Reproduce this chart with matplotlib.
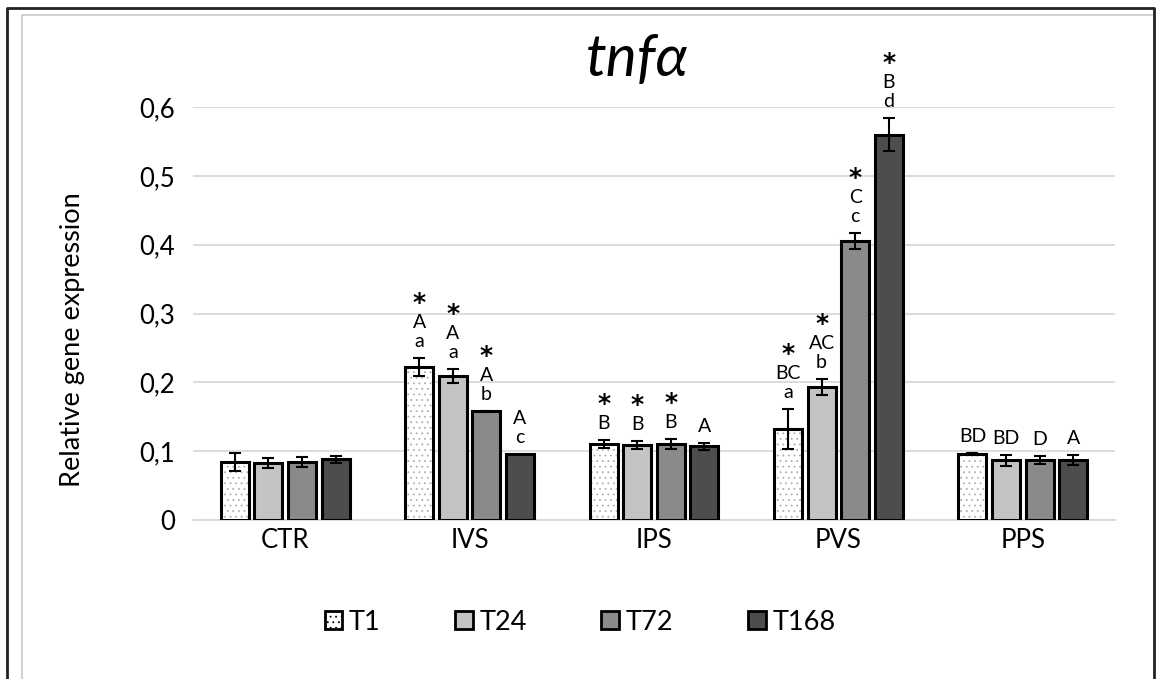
import numpy as np
import matplotlib.pyplot as plt
from matplotlib.patches import Patch
from matplotlib.lines import Line2D

plt.rcParams['font.family'] = ['Lato', 'DejaVu Sans']
plt.rcParams['hatch.linewidth'] = 0.6

groups = ['CTR', 'IVS', 'IPS', 'PVS', 'PPS']
times = ['T1', 'T24', 'T72', 'T168']

# mean expression per time point, one value per group
t1 = [0.084, 0.222, 0.110, 0.132, 0.096]
t24 = [0.083, 0.209, 0.109, 0.193, 0.087]
t72 = [0.084, 0.158, 0.110, 0.405, 0.087]
t168 = [0.088, 0.096, 0.107, 0.560, 0.087]

err_t1 = [0.013, 0.013, 0.006, 0.029, 0.002]
err_t24 = [0.007, 0.010, 0.006, 0.012, 0.008]
err_t72 = [0.007, 0.001, 0.007, 0.012, 0.006]
err_t168 = [0.005, 0.000, 0.005, 0.024, 0.007]

# significance marks (star) and letters above each bar
star_t1 = [False, True, True, True, False]
star_t24 = [False, True, True, True, False]
star_t72 = [False, True, True, True, False]
star_t168 = [False, False, False, True, False]

upper_t1 = ['', 'A', 'B', 'BC', 'BD']
upper_t24 = ['', 'A', 'B', 'AC', 'BD']
upper_t72 = ['', 'A', 'B', 'C', 'D']
upper_t168 = ['', 'A', 'A', 'B', 'A']

lower_t1 = ['', 'a', '', 'a', '']
lower_t24 = ['', 'a', '', 'b', '']
lower_t72 = ['', 'b', '', 'c', '']
lower_t168 = ['', 'c', '', 'd', '']

values = [t1, t24, t72, t168]
errors = [err_t1, err_t24, err_t72, err_t168]
stars = [star_t1, star_t24, star_t72, star_t168]
uppers = [upper_t1, upper_t24, upper_t72, upper_t168]
lowers = [lower_t1, lower_t24, lower_t72, lower_t168]

colors = ['#ffffff', '#c4c4c4', '#8a8a8a', '#4d4d4d']
hatches = ['...', None, None, None]
hatch_cols = ['#b0b0b0', '#c4c4c4', '#8a8a8a', '#4d4d4d']

fig = plt.figure(figsize=(11.56, 6.79), dpi=100)
ax = fig.add_axes([193/1156, 1-520/679, 922/1156, 413/679])

x = np.arange(len(groups))
width = 0.152
pitch = 0.182
px = 1.0 / 1.389  # one pixel in points at 100 dpi

for i in range(4):
    pos = x + (i - 1.5) * pitch
    ax.bar(pos, values[i], width, color=colors[i], hatch=hatches[i],
           edgecolor=hatch_cols[i], linewidth=0, zorder=2)
    ax.bar(pos, values[i], width, fill=False, edgecolor='black',
           linewidth=2.2, zorder=3)
    err = np.array(errors[i])
    mask = err > 0.0005
    ax.errorbar(pos[mask], np.array(values[i])[mask], yerr=err[mask], fmt='none',
                ecolor='black', elinewidth=1.5, capsize=4.5, capthick=1.5, zorder=4)
    for j in range(len(groups)):
        top = values[i][j] + errors[i][j]
        off = 8
        if lowers[i][j]:
            ax.annotate(lowers[i][j], (pos[j], top), xytext=(0, off*px),
                        textcoords='offset points', ha='center', va='bottom',
                        fontsize=14)
            off += 19
        if uppers[i][j]:
            ax.annotate(uppers[i][j], (pos[j], top), xytext=(0, off*px),
                        textcoords='offset points', ha='center', va='bottom',
                        fontsize=14)
            off += 20
        if stars[i][j]:
            ax.annotate('*', (pos[j], top), xytext=(0, (off - 4)*px),
                        textcoords='offset points', ha='center', va='bottom',
                        fontsize=18, fontweight='bold', family='DejaVu Sans')

ax.set_xlim(-0.5, 4.5)
ax.set_ylim(0, 0.6)
ax.set_yticks(np.arange(0, 0.61, 0.1))
ax.set_yticklabels(['0', '0,1', '0,2', '0,3', '0,4', '0,5', '0,6'])
ax.set_xticks(x)
ax.set_xticklabels(groups)
ax.tick_params(axis='both', length=0, labelsize=18.5)
ax.tick_params(axis='y', pad=13)
ax.tick_params(axis='x', pad=6)
ax.grid(axis='y', color='#d9d9d9', linewidth=1.3, zorder=0)
ax.set_axisbelow(True)
for s in ['top', 'right', 'left']:
    ax.spines[s].set_visible(False)
ax.spines['bottom'].set_color('#d9d9d9')
ax.spines['bottom'].set_linewidth(1.3)

fig.text(73/1156, 1-340/679, 'Relative gene expression', rotation=90,
         ha='center', va='center', fontsize=19.5)
fig.text(637/1156, 1-60/679, 'tnfα', ha='center', va='center',
         fontsize=42, style='italic')

handles = [Patch(facecolor=colors[i], edgecolor='black', linewidth=2,
                 hatch=hatches[i]) for i in range(4)]
fig.legend(handles, times, loc='center', bbox_to_anchor=(580/1156, 1-622/679),
           ncol=4, frameon=False, fontsize=19.5, handlelength=0.65,
           handleheight=0.65, handletextpad=0.25, columnspacing=2.75)

# page frame
fig.add_artist(Line2D([7/1156, 7/1156, 1154/1156, 1154/1156],
                      [0, 1-8/679, 1-8/679, 0], color='#222222', linewidth=2,
                      transform=fig.transFigure))
fig.add_artist(Line2D([22/1156, 22/1156, 1152/1156],
                      [0, 1-15/679, 1-15/679], color='#c8c8c8', linewidth=1.2,
                      transform=fig.transFigure))

fig.savefig('out.png', dpi=100)
